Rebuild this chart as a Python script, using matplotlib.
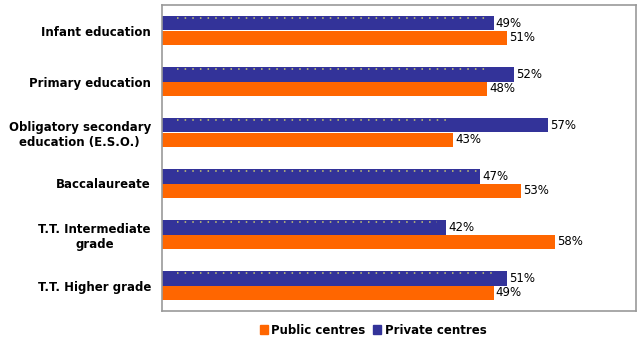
import matplotlib
matplotlib.use("Agg")
import matplotlib.pyplot as plt
from matplotlib.patches import Patch

categories = ["Infant education", "Primary education",
              "Obligatory secondary\neducation (E.S.O.)", "Baccalaureate",
              "T.T. Intermediate\ngrade", "T.T. Higher grade"]
private_centres = [49, 52, 57, 47, 42, 51]
public_centres = [51, 48, 43, 53, 58, 49]
dot_line_ends = [48.0, 48.3, 42.8, 46.6, 40.6, 48.8]

W, H = 643, 346
fig = plt.figure(figsize=(W / 100, H / 100), dpi=100)
ax = fig.add_axes([162 / W, 1 - 311 / H, (636 - 162) / W, (311 - 5) / H])

blue = "#333399"
orange = "#FF6600"
bh = 0.285
n = len(categories)
ys = list(range(n))
ax.barh([y - bh / 2 for y in ys], private_centres, height=bh, color=blue, zorder=2)
ax.barh([y + bh / 2 for y in ys], public_centres, height=bh, color=orange, zorder=2)

for y, e in zip(ys, dot_line_ends):
    ax.plot([2.2, e], [y - bh + 0.04, y - bh + 0.04], color="#c8c870",
            linestyle=(0, (1, 4)), linewidth=1.1, zorder=3)

for y, v in zip(ys, private_centres):
    ax.text(v + 0.3, y - bh / 2, f"{v}%", va="center", ha="left", fontsize=8.5,
            color="black")
for y, v in zip(ys, public_centres):
    ax.text(v + 0.3, y + bh / 2, f"{v}%", va="center", ha="left", fontsize=8.5,
            color="black")

ax.set_xlim(0, 70)
ax.set_ylim(n - 0.5, -0.5)
ax.set_yticks(ys)
ax.set_yticklabels(categories, fontsize=8.5, fontweight="bold")
for lbl in ax.get_yticklabels():
    lbl.set_multialignment("center")
ax.tick_params(axis="y", length=0, pad=8)
ax.set_xticks([])
for s in ax.spines.values():
    s.set_color("#999999")
    s.set_linewidth(1.2)

handles = [Patch(color=orange, label="Public centres"),
           Patch(color=blue, label="Private centres")]
fig.legend(handles=handles, loc="center", bbox_to_anchor=(373 / W, 1 - 330 / H),
           ncol=2, frameon=False, handlelength=0.7, handleheight=0.7,
           handletextpad=0.3, columnspacing=0.6,
           prop={"size": 8.5, "weight": "bold"})

fig.savefig("out.png", dpi=100)
